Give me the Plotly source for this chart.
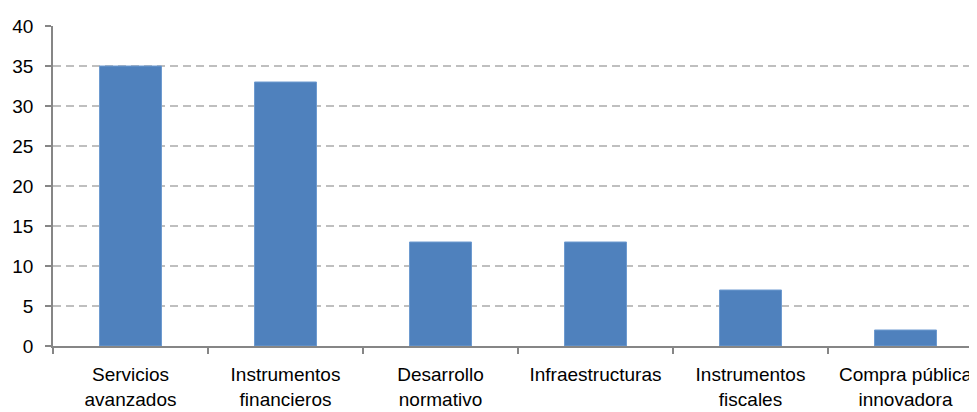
import plotly.graph_objects as go

categories = ["Servicios<br>avanzados", "Instrumentos<br>financieros", "Desarrollo<br>normativo",
              "Infraestructuras", "Instrumentos<br>fiscales", "Compra pública<br>innovadora"]
values = [35, 33, 13, 13, 7, 2]
y_ticks = [0, 5, 10, 15, 20, 25, 30, 35, 40]

fig = go.Figure(go.Bar(
    x=categories, y=values, width=0.4,
    marker=dict(color="#4F81BD", line=dict(color="#6E9BD0", width=1)),
))

fig.update_layout(
    width=975, height=404,
    margin=dict(l=45, r=0, t=18, b=66, autoexpand=False),
    paper_bgcolor="white", plot_bgcolor="white",
    font=dict(family="Liberation Sans, Arial, sans-serif", size=19, color="black"),
    showlegend=False,
    bargap=0.6,
)
fig.update_yaxes(
    range=[0, 40], tickvals=y_ticks, showgrid=True, automargin=False,
    gridcolor="#BFBFBF", griddash="8px,5px", gridwidth=1.5,
    showline=True, linecolor="#868686", linewidth=1.5,
    ticks="outside", ticklen=6, tickcolor="#868686", tickwidth=1.5,
    ticklabelstandoff=8, zeroline=False,
)
fig.update_xaxes(
    showgrid=False, showline=True, linecolor="#868686", linewidth=2, automargin=False,
    ticks="outside", tickson="boundaries", ticklen=6, tickcolor="#868686", tickwidth=1.5,
    tickangle=0, ticklabelstandoff=10,
)

fig.write_html("out.html")
